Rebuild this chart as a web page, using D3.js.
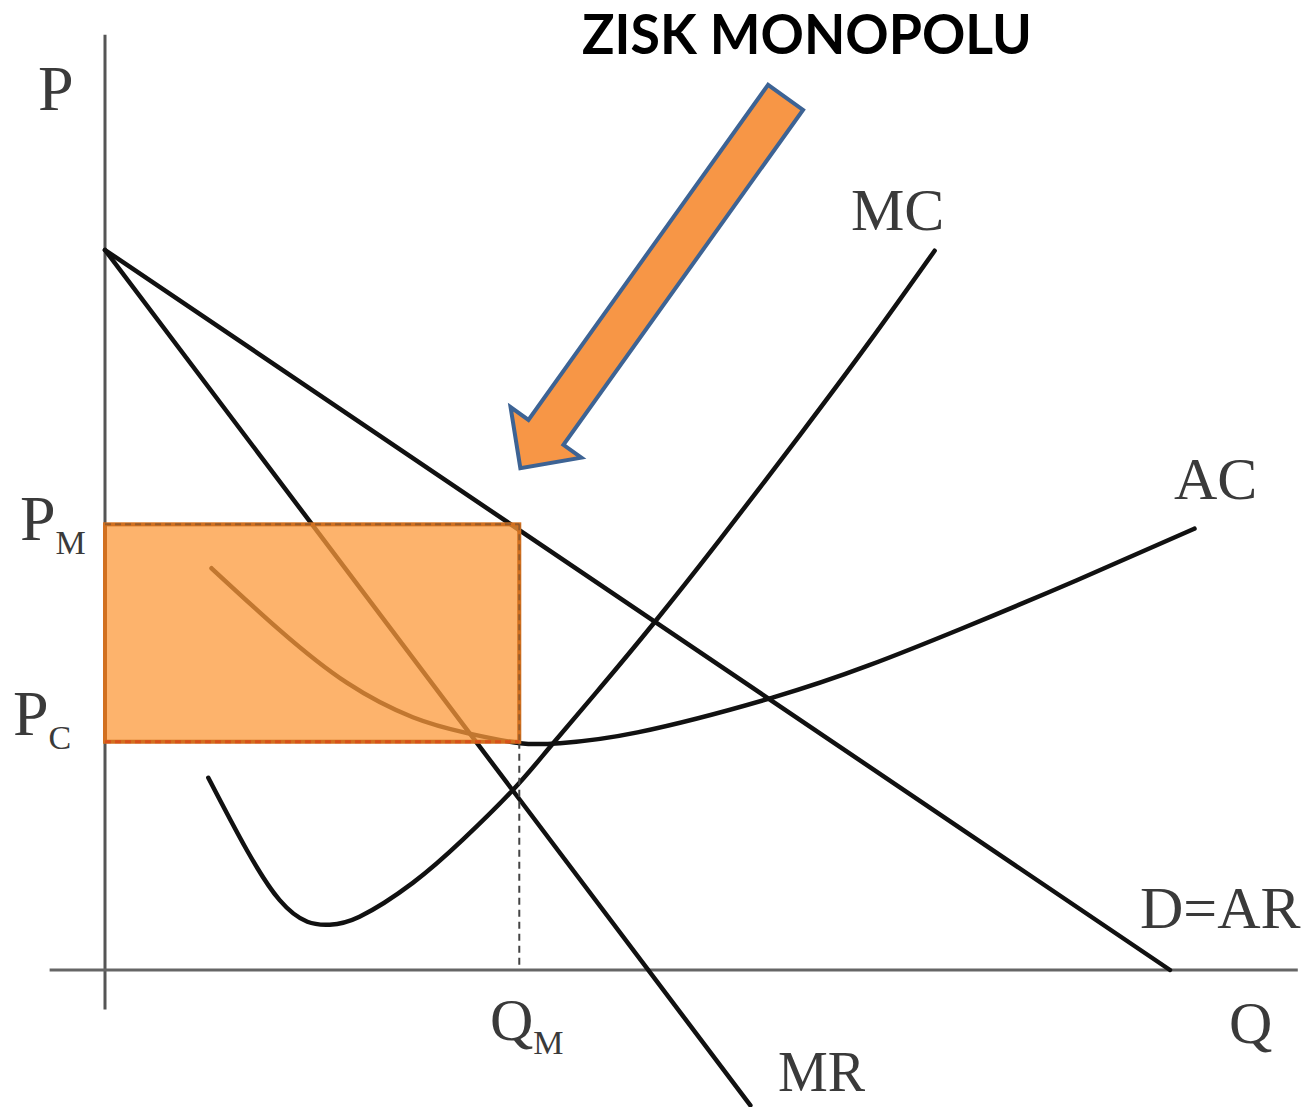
<!DOCTYPE html>
<meta charset="utf-8">
<script src="https://d3js.org/d3.v7.min.js"></script>
<style>
  body { margin: 0; background: #fff; }
  .lbl { font-family: "Liberation Serif", serif; fill: #3a3a3a; }
</style>
<div id="chart"></div>
<script>

// demand (= average revenue) and marginal revenue, in chart units
var demandQ = [0, 100];
var demandP = [100, 0];
var mrQ = [0, 60.6];
var mrP = [100, -18.8];

// marginal cost curve (U-shape)
var mcQ = [9.7, 13.3, 16.4, 19.0, 21.1, 23.9, 28.9, 33.6, 38.3, 41.8, 46.5, 51.6, 57.7, 65.3, 71.8, 77.9];
var mcP = [26.7, 16.7, 9.7, 6.7, 6.3, 7.4, 12.1, 18.1, 25.0, 31.0, 39.2, 48.3, 59.7, 74.4, 87.3, 99.9];

// average cost curve
var acQ = [10.0, 16.4, 22.7, 28.9, 34.0, 39.0, 42.7, 50.0, 62.6, 71.7, 80.4, 91.2, 102.3];
var acP = [55.8, 47.2, 39.9, 35.1, 32.9, 31.5, 31.5, 33.0, 37.8, 42.3, 47.4, 54.1, 61.3];

// monopoly quantity / price and the competitive (min AC) price
var Q_M = 38.9, P_M = 61.9, P_C = 31.7;

// the callout arrow: tail and tip
var arrowQ = [63.9, 39.0];
var arrowP = [121.2, 69.7];

var W = 1307, H = 1107;

var svg = d3.select("#chart")
  .append("svg")
    .attr("width", W)
    .attr("height", H);

// origin at (105, 970)
var x = d3.scaleLinear().domain([0, 100]).range([105, 1170]);
var y = d3.scaleLinear().domain([0, 100]).range([970, 250]);

function pts(qs, ps) { return qs.map(function(q, i) { return [q, ps[i]]; }); }

var line = d3.line()
    .x(function(d) { return x(d[0]); })
    .y(function(d) { return y(d[1]); });
var smooth = d3.line()
    .x(function(d) { return x(d[0]); })
    .y(function(d) { return y(d[1]); })
    .curve(d3.curveNatural);

// axes
svg.append("line")
    .attr("x1", x(0)).attr("x2", x(0))
    .attr("y1", y(129.9)).attr("y2", y(-5.5))
    .attr("stroke", "#555").attr("stroke-width", 3);
svg.append("line")
    .attr("x1", x(-5.2)).attr("x2", x(112))
    .attr("y1", y(0)).attr("y2", y(0))
    .attr("stroke", "#666").attr("stroke-width", 3);

// curves
var curves = svg.append("g")
    .attr("fill", "none")
    .attr("stroke", "#111")
    .attr("stroke-width", 4.5)
    .attr("stroke-linecap", "round");
curves.append("path").attr("d", line(pts(demandQ, demandP)));
curves.append("path").attr("d", line(pts(mrQ, mrP)));
curves.append("path").attr("d", smooth(pts(mcQ, mcP)));
curves.append("path").attr("d", smooth(pts(acQ, acP)));

// dashed Q_M line
svg.append("line")
    .attr("x1", x(Q_M)).attr("x2", x(Q_M))
    .attr("y1", y(P_C)).attr("y2", y(0.7))
    .attr("stroke", "#444").attr("stroke-width", 2)
    .attr("stroke-dasharray", "7,5");

// profit rectangle, drawn over the curves
svg.append("rect")
    .attr("x", x(0))
    .attr("y", y(P_M))
    .attr("width", x(Q_M) - x(0))
    .attr("height", y(P_C) - y(P_M))
    .attr("fill", "#fc993b")
    .attr("fill-opacity", 0.75)
    .attr("stroke", "#d2701f")
    .attr("stroke-width", 4);
// dashed edges on top
svg.append("line")
    .attr("x1", x(0)).attr("x2", x(Q_M))
    .attr("y1", y(P_M)).attr("y2", y(P_M))
    .attr("stroke", "#7a5230").attr("stroke-width", 2).attr("stroke-opacity", 0.7)
    .attr("stroke-dasharray", "6,4");
svg.append("line")
    .attr("x1", x(Q_M)).attr("x2", x(Q_M))
    .attr("y1", y(P_M)).attr("y2", y(P_C))
    .attr("stroke", "#7a5230").attr("stroke-width", 2).attr("stroke-opacity", 0.7)
    .attr("stroke-dasharray", "6,4");
svg.append("line")
    .attr("x1", x(0)).attr("x2", x(Q_M))
    .attr("y1", y(P_C)).attr("y2", y(P_C))
    .attr("stroke", "#d9481a").attr("stroke-width", 3).attr("stroke-opacity", 0.8)
    .attr("stroke-dasharray", "6,4");

// block arrow built from tail/tip in pixel space
(function() {
  var tx = x(arrowQ[0]), ty = y(arrowP[0]);
  var hx = x(arrowQ[1]), hy = y(arrowP[1]);
  var len = Math.hypot(hx - tx, hy - ty);
  var ux = (hx - tx) / len, uy = (hy - ty) / len;   // along
  var nx = -uy, ny = ux;                              // across
  var shaft = 43 / 2, head = 87 / 2, headLen = 44;
  var bx = hx - ux * headLen, by = hy - uy * headLen;
  var poly = [
    [tx + nx * shaft, ty + ny * shaft],
    [bx + nx * shaft, by + ny * shaft],
    [bx + nx * head, by + ny * head],
    [hx, hy],
    [bx - nx * head, by - ny * head],
    [bx - nx * shaft, by - ny * shaft],
    [tx - nx * shaft, ty - ny * shaft]
  ];
  svg.append("polygon")
      .attr("points", poly.map(function(p) { return p.join(","); }).join(" "))
      .attr("fill", "#f79646")
      .attr("stroke", "#3d6394")
      .attr("stroke-width", 4)
      .attr("stroke-linejoin", "miter");
})();

// title
svg.append("text")
    .attr("x", 582).attr("y", 54)
    .attr("textLength", 450)
    .attr("lengthAdjust", "spacingAndGlyphs")
    .style("font-family", "Lato, 'Open Sans', sans-serif")
    .style("font-weight", "bold")
    .style("font-size", "56px")
    .style("fill", "#000")
    .text("ZISK MONOPOLU");

// labels
function label(txt, sub, lx, ly, size) {
  var t = svg.append("text").attr("class", "lbl")
      .attr("x", lx).attr("y", ly)
      .style("font-size", size + "px")
      .text(txt);
  if (sub) {
    t.append("tspan")
      .attr("dy", 14)
      .style("font-size", "34px")
      .text(sub);
  }
}
label("P", null, 38, 110, 64);
label("MC", null, 851, 230, 60);
label("AC", null, 1174, 499, 60);
label("P", "M", 20, 540, 64);
label("P", "C", 13, 735, 64);
label("Q", "M", 490, 1040, 60);
label("MR", null, 778, 1091, 56);
label("D=AR", null, 1140, 928, 60);
label("Q", null, 1229, 1043, 60);

</script>
